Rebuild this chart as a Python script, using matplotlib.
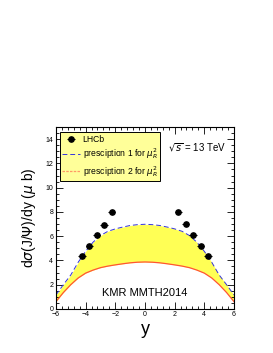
import matplotlib
matplotlib.use('Agg')
import matplotlib.pyplot as plt
import numpy as np
from matplotlib.ticker import MultipleLocator

plt.rcParams['font.family'] = ['Liberation Sans', 'DejaVu Sans']

# LHCb points
lhcb_y = [-4.25, -3.75, -3.25, -2.75, -2.25, 2.25, 2.75, 3.25, 3.75, 4.25]
lhcb_val = [4.4, 5.15, 6.07, 6.95, 7.98, 8.0, 7.0, 6.1, 5.15, 4.4]

# theory curves
rap = [-6, -5.5, -5, -4.5, -4, -3.5, -3, -2.5, -2, -1.5, -1, -0.5, 0,
       0.5, 1, 1.5, 2, 2.5, 3, 3.5, 4, 4.5, 5, 5.5, 6]
presc1 = [1.15, 2.0, 2.8, 3.85, 4.75, 5.5, 6.05, 6.4, 6.6, 6.75, 6.88, 6.95, 6.98,
          6.95, 6.88, 6.75, 6.6, 6.4, 6.05, 5.5, 4.75, 3.85, 2.8, 2.0, 1.15]
presc2 = [0.6, 1.35, 2.0, 2.55, 2.95, 3.2, 3.4, 3.53, 3.63, 3.72, 3.8, 3.85, 3.87,
          3.85, 3.8, 3.72, 3.63, 3.53, 3.4, 3.2, 2.95, 2.55, 2.0, 1.35, 0.6]

fig = plt.figure(figsize=(2.73, 3.53), dpi=100)
ax = fig.add_axes([0.205, 0.125, 0.652, 0.515])

ax.fill_between(rap, presc2, presc1, color='#ffff55', lw=0)
l1, = ax.plot(rap, presc1, color='#3333dd', ls=(0, (5, 3)), lw=0.7)
l2, = ax.plot(rap, presc2, color='#ff5533', lw=0.9)
# legend handle for 2 is dashed
h2, = ax.plot([], [], color='#ff9966', ls=(0, (2, 1)), lw=0.9)
h0 = ax.errorbar(lhcb_y, lhcb_val, xerr=0.25, fmt='o', color='black', ms=3.8,
                 elinewidth=0.8, capsize=0)

ax.set_xlim(-6, 6)
ax.set_ylim(0, 15)
ax.xaxis.set_major_locator(MultipleLocator(2))
ax.xaxis.set_minor_locator(MultipleLocator(0.4))
ax.yaxis.set_major_locator(MultipleLocator(2))
ax.yaxis.set_minor_locator(MultipleLocator(0.5))
ax.tick_params(which='both', direction='in', top=True, right=True, labelsize=5,
               width=0.6, pad=1.5)
ax.tick_params(which='major', length=5)
ax.tick_params(which='minor', length=2.5)
ax.tick_params(axis='y', pad=2)
for s in ax.spines.values():
    s.set_linewidth(0.8)

ax.set_xlabel('y', fontsize=13, labelpad=2)
ax.set_ylabel('d$\\sigma$(J/$\\Psi$)/dy ($\\mu$ b)', fontsize=10, labelpad=5)

leg = ax.legend([h0, l1, h2],
                ['LHCb', 'presciption 1 for $\\mu^2_R$', 'presciption 2 for $\\mu^2_R$'],
                loc='upper left', bbox_to_anchor=(0.022, 0.973), fontsize=6.2,
                frameon=True, fancybox=False, facecolor='#ffff99', edgecolor='black',
                framealpha=1, handlelength=2.0, borderpad=0.3, labelspacing=0.3,
                borderaxespad=0, handletextpad=0.35)
leg.get_frame().set_linewidth(0.7)

ax.text(0.63, 0.865, '$\\sqrt{s}$ = 13 TeV', transform=ax.transAxes, fontsize=7)
ax.text(0.5, 0.07, 'KMR MMTH2014', transform=ax.transAxes, fontsize=8, ha='center')

fig.savefig('out.png', dpi=100)
